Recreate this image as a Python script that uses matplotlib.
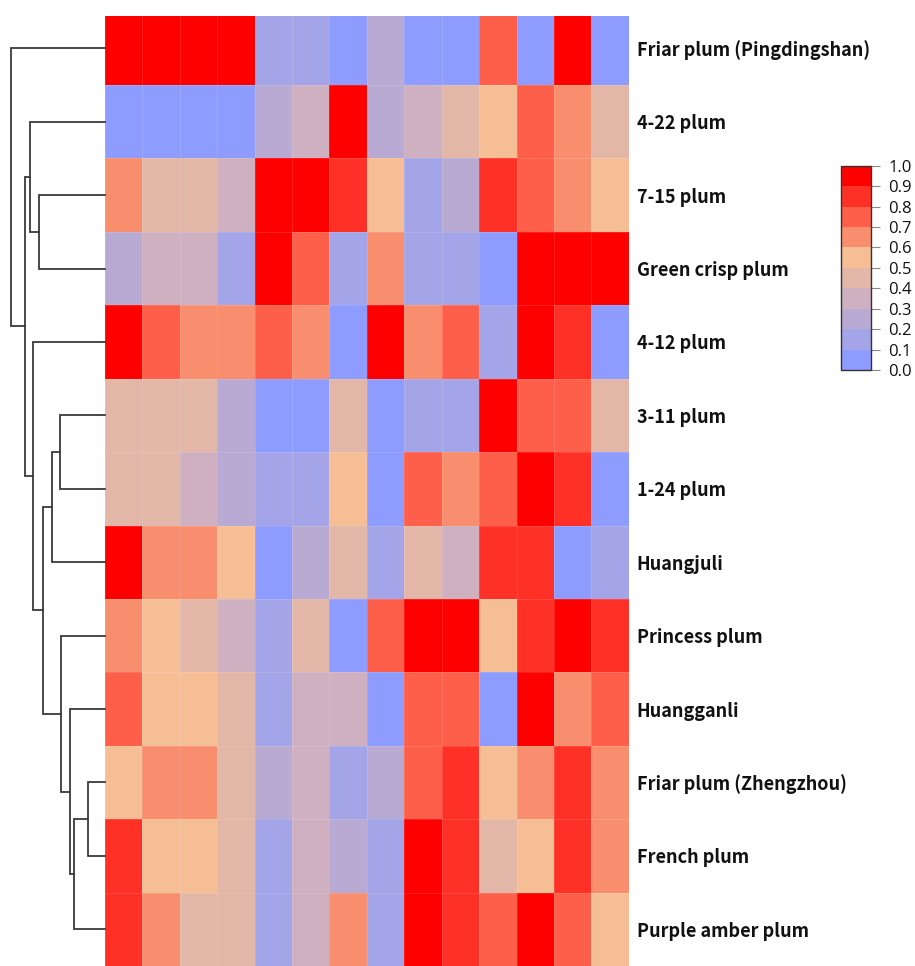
import numpy as np
import matplotlib
matplotlib.use("Agg")
import matplotlib.pyplot as plt
from matplotlib.colors import ListedColormap, BoundaryNorm
from matplotlib.cm import ScalarMappable

# ---------------- data ----------------
varieties = ["Friar plum (Pingdingshan)", "4-22 plum", "7-15 plum", "Green crisp plum",
             "4-12 plum", "3-11 plum", "1-24 plum", "Huangjuli", "Princess plum",
             "Huangganli", "Friar plum (Zhengzhou)", "French plum", "Purple amber plum"]

friar_pingdingshan = [0.95, 0.95, 0.95, 0.95, 0.15, 0.15, 0.05, 0.25, 0.05, 0.05, 0.75, 0.05, 0.95, 0.05]
plum_4_22 = [0.05, 0.05, 0.05, 0.05, 0.25, 0.35, 0.95, 0.25, 0.35, 0.45, 0.55, 0.75, 0.65, 0.45]
plum_7_15 = [0.65, 0.45, 0.45, 0.35, 0.95, 0.95, 0.85, 0.55, 0.15, 0.25, 0.85, 0.75, 0.65, 0.55]
green_crisp = [0.25, 0.35, 0.35, 0.15, 0.95, 0.75, 0.15, 0.65, 0.15, 0.15, 0.05, 0.95, 0.95, 0.95]
plum_4_12 = [0.95, 0.75, 0.65, 0.65, 0.75, 0.65, 0.05, 0.95, 0.65, 0.75, 0.15, 0.95, 0.85, 0.05]
plum_3_11 = [0.45, 0.45, 0.45, 0.25, 0.05, 0.05, 0.45, 0.05, 0.15, 0.15, 0.95, 0.75, 0.75, 0.45]
plum_1_24 = [0.45, 0.45, 0.35, 0.25, 0.15, 0.15, 0.55, 0.05, 0.75, 0.65, 0.75, 0.95, 0.85, 0.05]
huangjuli = [0.95, 0.65, 0.65, 0.55, 0.05, 0.25, 0.45, 0.15, 0.45, 0.35, 0.85, 0.85, 0.05, 0.15]
princess = [0.65, 0.55, 0.45, 0.35, 0.15, 0.45, 0.05, 0.75, 0.95, 0.95, 0.55, 0.85, 0.95, 0.85]
huangganli = [0.75, 0.55, 0.55, 0.45, 0.15, 0.35, 0.35, 0.05, 0.75, 0.75, 0.05, 0.95, 0.65, 0.75]
friar_zhengzhou = [0.55, 0.65, 0.65, 0.45, 0.25, 0.35, 0.15, 0.25, 0.75, 0.85, 0.55, 0.65, 0.85, 0.65]
french = [0.85, 0.55, 0.55, 0.45, 0.15, 0.35, 0.25, 0.15, 0.95, 0.85, 0.45, 0.55, 0.85, 0.65]
purple_amber = [0.85, 0.65, 0.45, 0.45, 0.15, 0.35, 0.65, 0.15, 0.95, 0.85, 0.75, 0.95, 0.75, 0.55]

# dendrogram merges (row indices; n+k refers to merge k) and merge heights
merge_left = [10, 13, 9, 8, 5, 17, 18, 2, 4, 1, 22, 0]
merge_right = [11, 12, 14, 15, 6, 7, 16, 3, 19, 20, 21, 23]
merge_height = [1.67, 3.10, 3.50, 4.33, 4.50, 5.23, 6.17, 6.57, 7.17, 7.43, 7.93, 9.33]

cbar_ticks = [0.0, 0.1, 0.2, 0.3, 0.4, 0.5, 0.6, 0.7, 0.8, 0.9, 1.0]
palette = ["#8E9CFF", "#A3A5E8", "#B8AAD3", "#CFB0C0", "#E2B7A8",
           "#F6BE94", "#F98E6E", "#FE5F4A", "#FF3026", "#FF0000"]

# ---------------- figure ----------------
W, H = 915, 966
fig = plt.figure(figsize=(W / 100, H / 100), dpi=100)
fig.patch.set_facecolor("white")

data = np.array([friar_pingdingshan, plum_4_22, plum_7_15, green_crisp, plum_4_12,
                 plum_3_11, plum_1_24, huangjuli, princess, huangganli,
                 friar_zhengzhou, french, purple_amber])
nrow, ncol = data.shape

cmap = ListedColormap(palette)
norm = BoundaryNorm(cbar_ticks, cmap.N)

hm_left, hm_right, hm_top = 104.8, 628.9, 16
ax = fig.add_axes([hm_left / W, 0, (hm_right - hm_left) / W, (H - hm_top) / H])
ax.pcolormesh(np.arange(ncol + 1), np.arange(nrow + 1), data, cmap=cmap, norm=norm,
              edgecolors=(1, 1, 1, 0.12), linewidth=0.4)
ax.set_xlim(0, ncol)
ax.set_ylim(nrow, 0.06)
for s in ax.spines.values():
    s.set_visible(False)
ax.set_xticks([])
ax.yaxis.tick_right()
ax.set_yticks(np.arange(nrow) + 0.5)
ax.set_yticklabels(varieties, fontfamily=["Noto Sans CJK KR", "DejaVu Sans"],
                   fontweight="bold", fontsize=13, color="#111111")
ax.tick_params(axis="y", length=0, pad=5.5)

# dendrogram
dax = fig.add_axes([10.5 / W, 0, (hm_left - 10.5) / W, (H - hm_top) / H], sharey=ax)
pos = {i: (0.0, i + 0.5) for i in range(nrow)}
for k, (a, b, h) in enumerate(zip(merge_left, merge_right, merge_height)):
    ha, ya = pos[a]
    hb, yb = pos[b]
    dax.plot([ha, h, h, hb], [ya, ya, yb, yb], color="#3a3a3a", lw=1.3,
             solid_joinstyle="miter", clip_on=False)
    pos[nrow + k] = (h, (ya + yb) / 2)
dax.set_xlim(max(merge_height) * 1.0045, 0)
dax.axis("off")

# colorbar
cb_l, cb_r, cb_t, cb_b = 840.7, 870.7, 165.7, 370
cax = fig.add_axes([cb_l / W, (H - cb_b) / H, (cb_r - cb_l) / W, (cb_b - cb_t) / H])
sm = ScalarMappable(norm=norm, cmap=cmap)
cb = fig.colorbar(sm, cax=cax, ticks=cbar_ticks, format="%.1f", drawedges=False)
cb.outline.set_edgecolor("#333333")
cb.outline.set_linewidth(1.0)
cax.tick_params(length=6.5, width=0.8, color="#888888", pad=6, labelsize=12,
                labelcolor="#111111")
for t in cax.get_yticklabels():
    t.set_fontfamily(["Open Sans", "DejaVu Sans"])

fig.savefig("out.png", dpi=100, facecolor="white")
